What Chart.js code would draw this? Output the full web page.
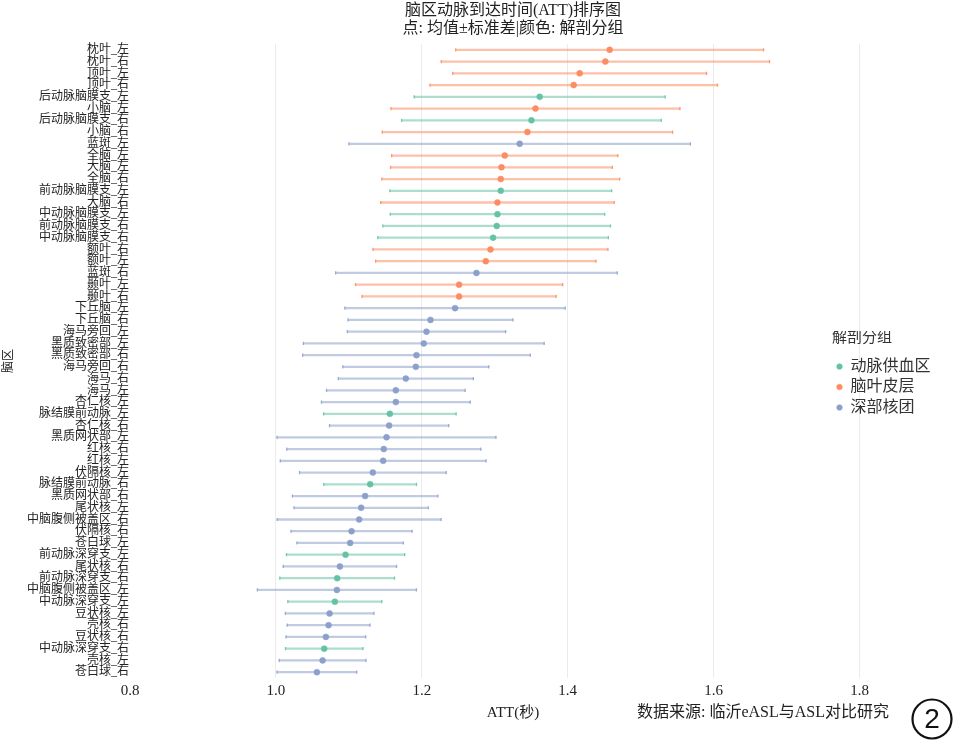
<!DOCTYPE html>
<html><head><meta charset="utf-8">
<script src="https://cdn.jsdelivr.net/npm/chart.js@4.4.1/dist/chart.umd.min.js"></script>
<style>html,body{margin:0;padding:0;background:#fff;}#wrap{position:relative;width:960px;height:744px;}</style>
</head><body><div id="wrap"><canvas id="c" width="960" height="744"></canvas></div>
<script>
const categories = ['枕叶_左','枕叶_右','顶叶_左','顶叶_右','后动脉脑膜支_左','小脑_左','后动脉脑膜支_右','小脑_右','蓝斑_左','全脑_左','大脑_左','全脑_右','前动脉脑膜支_左','大脑_右','中动脉脑膜支_左','前动脉脑膜支_右','中动脉脑膜支_右','额叶_右','额叶_左','蓝斑_右','颞叶_左','颞叶_右','下丘脑_左','下丘脑_右','海马旁回_左','黑质致密部_左','黑质致密部_右','海马旁回_右','海马_右','海马_左','杏仁核_左','脉结膜前动脉_左','杏仁核_右','黑质网状部_左','红核_右','红核_左','伏隔核_左','脉结膜前动脉_右','黑质网状部_右','尾状核_左','中脑腹侧被盖区_右','伏隔核_右','苍白球_左','前动脉深穿支_左','尾状核_右','前动脉深穿支_右','中脑腹侧被盖区_左','中动脉深穿支_左','豆状核_左','壳核_右','豆状核_右','中动脉深穿支_右','壳核_左','苍白球_右'];
const groups = ['脑叶皮层','脑叶皮层','脑叶皮层','脑叶皮层','动脉供血区','脑叶皮层','动脉供血区','脑叶皮层','深部核团','脑叶皮层','脑叶皮层','脑叶皮层','动脉供血区','脑叶皮层','动脉供血区','动脉供血区','动脉供血区','脑叶皮层','脑叶皮层','深部核团','脑叶皮层','脑叶皮层','深部核团','深部核团','深部核团','深部核团','深部核团','深部核团','深部核团','深部核团','深部核团','动脉供血区','深部核团','深部核团','深部核团','深部核团','深部核团','动脉供血区','深部核团','深部核团','深部核团','深部核团','深部核团','动脉供血区','深部核团','动脉供血区','深部核团','动脉供血区','深部核团','深部核团','深部核团','动脉供血区','深部核团','深部核团'];
const meanATT = [1.4575,1.4516,1.4164,1.4082,1.3616,1.3558,1.3503,1.3448,1.3342,1.3137,1.3092,1.3082,1.3082,1.3037,1.3037,1.3027,1.2977,1.2941,1.2877,1.2749,1.2511,1.2511,1.2456,1.2119,1.2064,1.2027,1.1927,1.1918,1.1781,1.1644,1.1644,1.1562,1.1552,1.1516,1.1479,1.1470,1.1329,1.1292,1.1223,1.1168,1.1141,1.1037,1.1018,1.0955,1.0877,1.0840,1.0836,1.0808,1.0736,1.0722,1.0685,1.0662,1.0640,1.0562];
const sdATT = [0.211,0.225,0.174,0.197,0.172,0.198,0.178,0.199,0.234,0.155,0.152,0.163,0.152,0.160,0.147,0.156,0.158,0.161,0.151,0.193,0.142,0.133,0.151,0.113,0.1085,0.165,0.156,0.100,0.0925,0.095,0.102,0.0908,0.0817,0.150,0.133,0.141,0.1005,0.0635,0.0997,0.092,0.1123,0.083,0.0729,0.081,0.0777,0.0786,0.109,0.0644,0.0607,0.0567,0.0546,0.0531,0.0594,0.0546];
const groupNames = ['动脉供血区','脑叶皮层','深部核团'];
const groupColors = ['#66c2a5','#fc8d62','#8da0cb'];
const xTicks = [0.8,1.0,1.2,1.4,1.6,1.8];
const titleLines = ['脑区动脉到达时间(ATT)排序图','点: 均值±标准差|颜色: 解剖分组'];
const xTitle = 'ATT(秒)';
const yTitle = '脑区';
const legendTitle = '解剖分组';
const sourceNote = '数据来源: 临沂eASL与ASL对比研究';

const SERIF = "'Liberation Serif','Noto Sans CJK SC',serif";
function hexA(hex, a){const n=parseInt(hex.slice(1),16);return `rgba(${n>>16&255},${n>>8&255},${n&255},${a})`;}
const colorOf = g => groupColors[groupNames.indexOf(g)];

const pointSets = groupNames.map((g,gi)=>({
  type:'line', label:g, showLine:false, order:0,
  data: meanATT.map((m,i)=> groups[i]===g ? m : null),
  backgroundColor: groupColors[gi], borderColor: groupColors[gi],
  pointBackgroundColor: groupColors[gi], pointBorderColor: groupColors[gi],
  pointRadius:3, pointBorderWidth:0.5, pointStyle:'circle'
}));
const barSet = {
  type:'bar', label:'sd', order:2, grouped:false, barThickness:1.6,
  data: meanATT.map((m,i)=>[m-sdATT[i], m+sdATT[i]]),
  backgroundColor: groups.map(g=>hexA(colorOf(g),0.55)), borderWidth:0
};
const capSet = (sign) => ({
  type:'line', label:'cap', showLine:false, order:1,
  data: meanATT.map((m,i)=> m + sign*sdATT[i]),
  pointStyle:'line', rotation:90, pointRadius:1.6, pointBorderWidth:1.3,
  pointBorderColor: groups.map(g=>hexA(colorOf(g),0.85)), pointBackgroundColor:'rgba(0,0,0,0)'
});

const legendMove = { id:'legendMove', afterLayout(chart){
  const lg = chart.legend; if(!lg) return;
  const w = lg.width, h = lg.height;
  lg.left = 832; lg.right = 832 + w; lg.top = 331; lg.bottom = 331 + h;
}};
const notes = { id:'notes', afterDraw(chart){
  const ctx = chart.ctx; ctx.save();
  ctx.fillStyle = '#222'; ctx.font = "16px " + SERIF; ctx.textAlign='center'; ctx.textBaseline='middle';
  ctx.fillText(sourceNote, 763, 713);
  ctx.beginPath(); ctx.arc(932, 719, 19.5, 0, Math.PI*2); ctx.lineWidth = 2.2; ctx.strokeStyle = '#111'; ctx.stroke();
  ctx.fillStyle = '#111'; ctx.font = "28px 'Liberation Sans','DejaVu Sans',sans-serif"; ctx.fillText('2', 932, 720);
  ctx.restore();
}};

new Chart(document.getElementById('c'), {
  type:'bar',
  data:{ labels: categories, datasets:[...pointSets, barSet, capSet(-1), capSet(1)] },
  options:{
    responsive:false, animation:false, indexAxis:'y',
    layout:{ padding:{ left:0, right:64, top:0, bottom:0 } },
    plugins:{
      tooltip:{enabled:false},
      title:{ display:true, text:titleLines, fullSize:false, color:'#222',
        font:{ family:SERIF, size:16, weight:'normal', lineHeight:18/16 }, padding:{top:2,bottom:6} },
      legend:{ display:true, position:'chartArea', align:'start',
        title:{ display:true, text:legendTitle, color:'#333', position:'start',
          font:{family:SERIF,size:15}, padding:{top:0,bottom:5} },
        labels:{ filter:(item)=> item.datasetIndex < 3, usePointStyle:true, pointStyle:'circle',
          boxWidth:6, boxHeight:4, padding:4.5, color:'#333', font:{family:SERIF,size:16} } }
    },
    scales:{
      x:{ type:'linear', min:0.8, max:1.85,
        afterBuildTicks:(s)=>{ s.ticks = xTicks.map(v=>({value:v})); },
        afterFit:(s)=>{ s.height = 66; },
        grid:{ drawTicks:false, color:(c)=> c.tick && Math.abs(c.tick.value-0.8)<1e-6 ? 'rgba(0,0,0,0)' : '#ebebeb', lineWidth:1 },
        border:{display:false},
        ticks:{ padding:4, color:'#222', font:{family:SERIF,size:15}, callback:(v)=>Number(v).toFixed(1) },
        title:{ display:true, text:xTitle, color:'#222', font:{family:SERIF,size:15}, padding:{top:0,bottom:22} }
      },
      y:{ type:'category', offset:true,
        afterFit:(s)=>{ s.width = 130; },
        grid:{ display:false, drawTicks:false }, border:{display:false},
        ticks:{ autoSkip:false, padding:1, color:'#222', font:{family:SERIF,size:12} },
        title:{ display:true, text:yTitle, color:'#222', font:{family:SERIF,size:12}, padding:{top:2,bottom:0} }
      }
    }
  },
  plugins:[legendMove, notes]
});
</script></body></html>
